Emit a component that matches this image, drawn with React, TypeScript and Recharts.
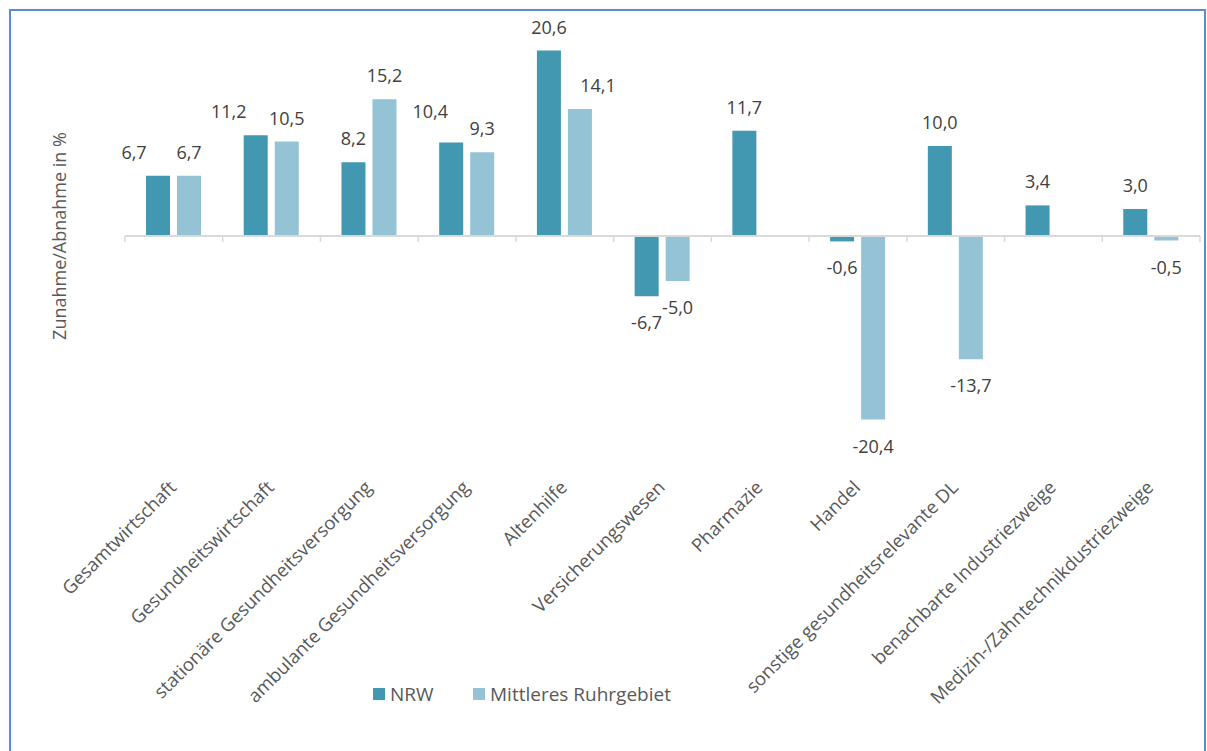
import React from 'react';
import { BarChart, Bar, XAxis, YAxis, ReferenceLine, LabelList, Legend } from 'recharts';

const categories = [
  'Gesamtwirtschaft',
  'Gesundheitswirtschaft',
  'stationäre Gesundheitsversorgung',
  'ambulante Gesundheitsversorgung',
  'Altenhilfe',
  'Versicherungswesen',
  'Pharmazie',
  'Handel',
  'sonstige gesundheitsrelevante DL',
  'benachbarte Industriezweige',
  'Medizin-/Zahntechnikdustriezweige',
];
const nrwValues: (number | null)[] = [6.7, 11.2, 8.2, 10.4, 20.6, -6.7, 11.7, -0.6, 10.0, 3.4, 3.0];
const ruhrValues: (number | null)[] = [6.7, 10.5, 15.2, 9.3, 14.1, -5.0, null, -20.4, -13.7, null, -0.5];
const seriesNames = ['NRW', 'Mittleres Ruhrgebiet'];
const yDomain = [-25, 25];

const data = categories.map((name, i) => ({ name, nrw: nrwValues[i], ruhr: ruhrValues[i] }));

const FONT = '"Open Sans", "Noto Sans", sans-serif';
const NRW_COLOR = '#4298B0';
const RUHR_COLOR = '#93C3D4';

// small manual label nudges (style only)
const nrwLabelNudge: Record<number, { dx: number; dy: number }> = {
  0: { dx: -24, dy: 0 },
  1: { dx: -27, dy: 0 },
  3: { dx: -21, dy: -7 },
};
const ruhrLabelNudge: Record<number, { dx: number; dy: number }> = { 4: { dx: 18, dy: 0 } };

const fmt = (v: number) => v.toFixed(1).replace('.', ',');

const makeLabel = (nudge: Record<number, { dx: number; dy: number }>) => (props: any) => {
  const value = props.value;
  if (value === null || value === undefined || Number.isNaN(value)) return null;
  const vb = props.viewBox || {};
  const x = props.x ?? vb.x;
  const y = props.y ?? vb.y;
  const width = props.width ?? vb.width;
  const height = props.height ?? vb.height;
  const top = Math.min(y, y + height);
  const bottom = Math.max(y, y + height);
  const n = nudge[props.index] || { dx: 0, dy: 0 };
  const cx = x + width / 2 + n.dx;
  const ty = value >= 0 ? top - 17 + n.dy : bottom + 33 + n.dy;
  return (
    <text x={cx} y={ty} textAnchor="middle" fontSize={18} fill="#404040" fontFamily={FONT}>
      {fmt(value)}
    </text>
  );
};

const CategoryTick = (props: any) => {
  const { x, y, payload } = props;
  const ax = x - 1;
  const ay = y + 15;
  return (
    <text
      x={ax}
      y={ay}
      dy="0.35em"
      textAnchor="end"
      fontSize={18.5}
      fill="#595959"
      fontFamily={FONT}
      transform={`rotate(-45, ${ax}, ${ay})`}
    >
      {payload.value}
    </text>
  );
};

const ZeroAxis = (props: any) => {
  const { x1, x2, y1 } = props;
  const n = categories.length;
  const step = (x2 - x1) / n;
  const ticks = [];
  for (let i = 0; i <= n; i++) {
    const tx = x1 + i * step;
    ticks.push(<line key={i} x1={tx} x2={tx} y1={y1} y2={y1 + 6} stroke="#D9D9D9" strokeWidth={1.5} />);
  }
  return (
    <g>
      <line x1={x1} x2={x2} y1={y1} y2={y1} stroke="#D9D9D9" strokeWidth={2} />
      {ticks}
    </g>
  );
};

const LegendContent = (props: any) => {
  const payload = [...(props.payload || [])].sort(
    (a: any, b: any) => seriesNames.indexOf(a.value) - seriesNames.indexOf(b.value)
  );
  const offsets = [0, 100];
  return (
    <svg width={320} height={30} style={{ display: 'block' }}>
      {payload.map((p: any, i: number) => (
        <g key={i}>
          <rect x={offsets[i]} y={8} width={12} height={12} fill={p.color} />
          <text x={offsets[i] + 17} y={21} fontSize={19} fill="#595959" fontFamily={FONT}>
            {p.value}
          </text>
        </g>
      ))}
    </svg>
  );
};

export default function App() {
  return (
    <div style={{ position: 'absolute', left: 0, top: 0, width: 1207, height: 751, overflow: 'hidden', background: '#fff' }}>
      <div
        style={{
          position: 'absolute',
          left: 9,
          top: 9,
          width: 1197,
          height: 800,
          border: '2px solid #5B8BD1',
          boxSizing: 'border-box',
        }}
      />
      <div style={{ position: 'absolute', left: 0, top: 0 }}>
        <BarChart
          width={1207}
          height={751}
          data={data}
          margin={{ top: 11, right: 7, bottom: 260, left: 0 }}
          barCategoryGap="21.5%"
          barGap={7}
          style={{ fontFamily: FONT }}
        >
          <XAxis dataKey="name" axisLine={false} tickLine={false} interval={0} height={30} tick={<CategoryTick />} />
          <YAxis
            width={125}
            domain={yDomain}
            axisLine={false}
            tickLine={false}
            tick={false}
            label={{
              value: 'Zunahme/Abnahme in %',
              angle: -90,
              position: 'center',
              dx: -3,
              style: { fontSize: 18, fill: '#595959', fontFamily: FONT },
            }}
          />
          <Legend
            layout="horizontal"
            verticalAlign="middle"
            align="center"
            wrapperStyle={{ left: 373, top: 680, width: 320 }}
            content={<LegendContent />}
          />
          <Bar dataKey="nrw" name={seriesNames[0]} fill={NRW_COLOR} isAnimationActive={false}>
            <LabelList dataKey="nrw" content={makeLabel(nrwLabelNudge)} />
          </Bar>
          <Bar dataKey="ruhr" name={seriesNames[1]} fill={RUHR_COLOR} isAnimationActive={false}>
            <LabelList dataKey="ruhr" content={makeLabel(ruhrLabelNudge)} />
          </Bar>
          <ReferenceLine y={0} shape={<ZeroAxis />} ifOverflow="extendDomain" />
        </BarChart>
      </div>
    </div>
  );
}
